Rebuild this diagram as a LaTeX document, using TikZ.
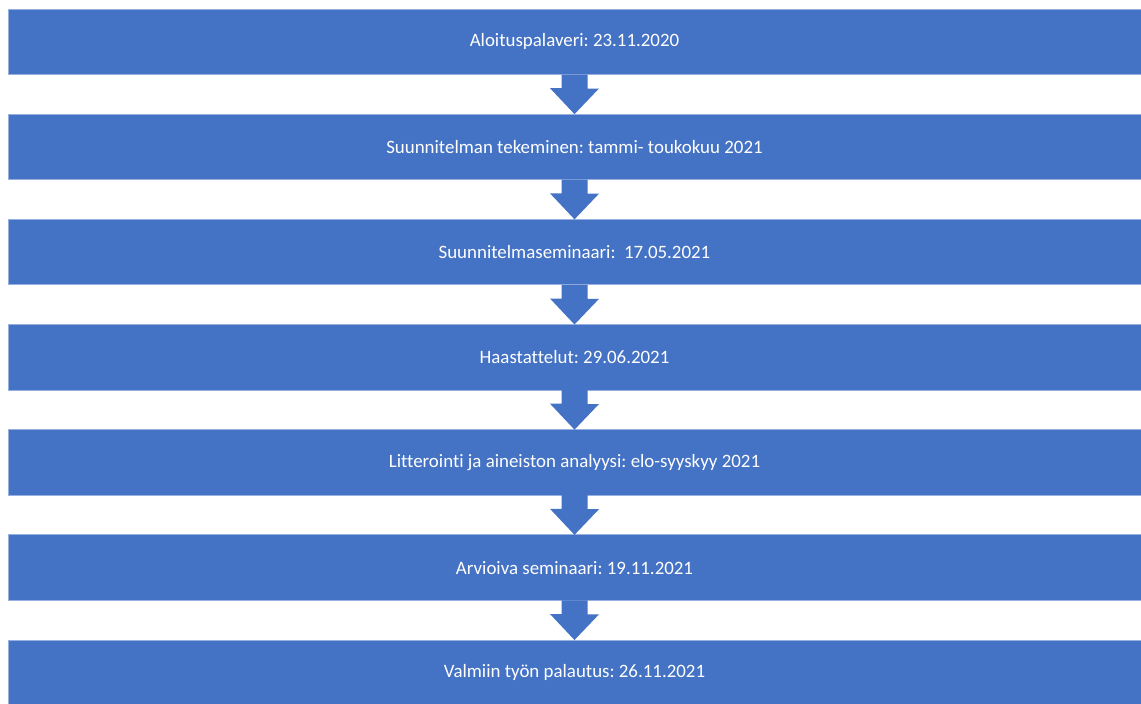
\documentclass[tikz,border=0pt]{standalone}
\usepackage{fontspec}
\setmainfont[Ligatures={NoCommon}]{Carlito}
\frenchspacing
\definecolor{boxblue}{RGB}{68,114,196}
\definecolor{edgeblue}{RGB}{150,176,224}
\tikzset{
  x=1pt, y=1pt,
  stage/.style={fill=boxblue, draw=edgeblue, line width=0.8pt, minimum width=1133pt, minimum height=65.5pt,
    inner sep=0pt, outer sep=0pt, text=white, font=\fontsize{18.9}{22}\selectfont},
  downarrow/.style={fill=boxblue}
}
\newcommand{\stagearrow}[2]{%
  \fill[downarrow] (#1.south) ++(-13,0) -- ++(26,0) -- ++(0,-14) -- ++(11.5,0) -- (#2.north) -- ++(-24.5,26) -- ++(11.5,0) -- cycle;}
\begin{document}
\begin{tikzpicture}
\useasboundingbox (0,0) rectangle (1141,-704);
\node[stage] (s1) at (574.5,-41.75) {Aloituspalaveri: 23.11.2020};
\node[stage] (s2) at (574.5,-146.92) {Suunnitelman tekeminen: tammi- toukokuu 2021};
\node[stage] (s3) at (574.5,-252.09) {Suunnitelmaseminaari:\ \ 17.05.2021};
\node[stage] (s4) at (574.5,-357.26) {Haastattelut: 29.06.2021};
\node[stage] (s5) at (574.5,-462.43) {Litterointi ja aineiston analyysi: elo-syyskyy 2021};
\node[stage] (s6) at (574.5,-567.60) {Arvioiva seminaari: 19.11.2021};
\node[stage] (s7) at (574.5,-672.77) {Valmiin työn palautus: 26.11.2021};
\stagearrow{s1}{s2}
\stagearrow{s2}{s3}
\stagearrow{s3}{s4}
\stagearrow{s4}{s5}
\stagearrow{s5}{s6}
\stagearrow{s6}{s7}
\end{tikzpicture}
\end{document}
